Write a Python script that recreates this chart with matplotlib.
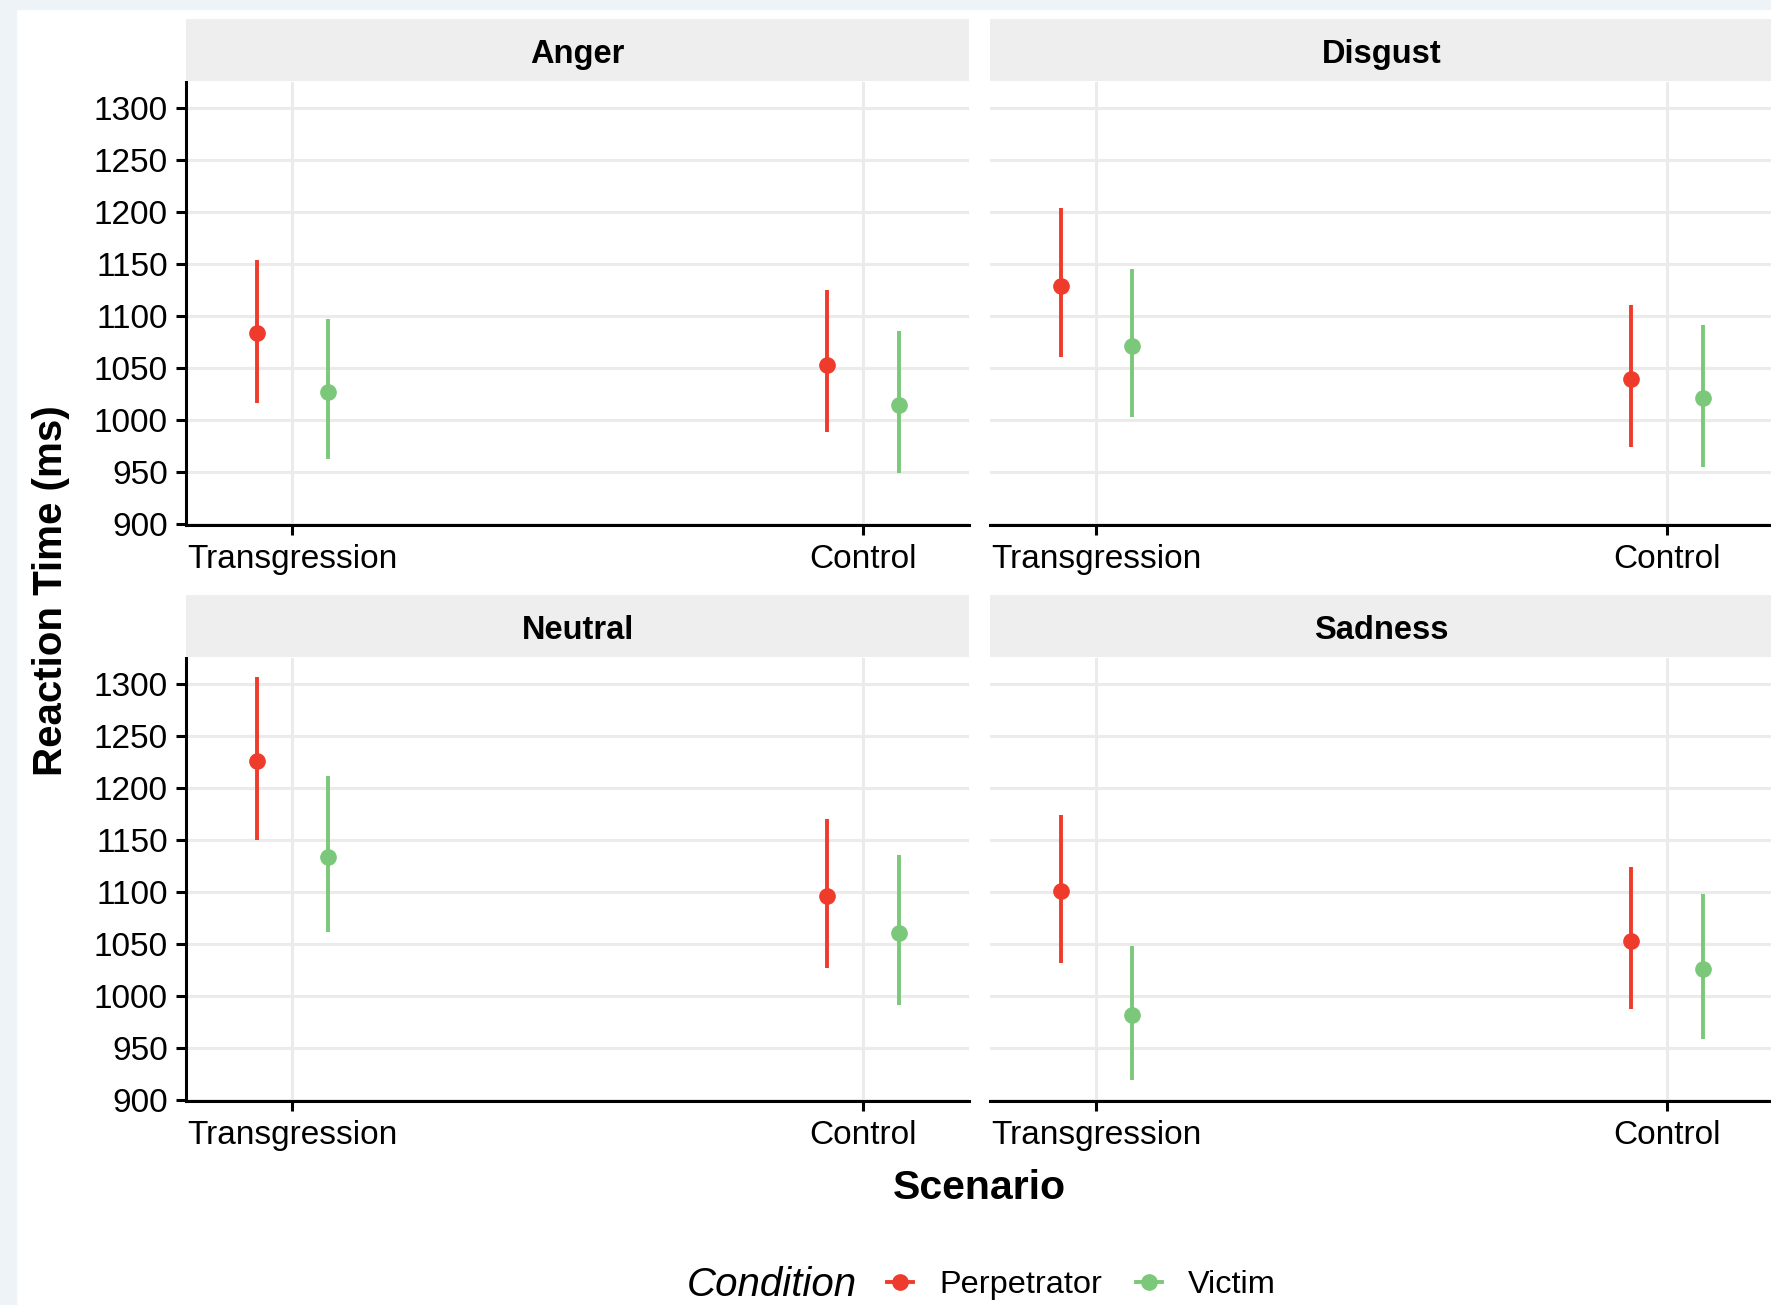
"""Reaction time by scenario, condition and emotion (facet grid, point ranges)"""
import matplotlib
matplotlib.use("Agg")
import matplotlib.pyplot as plt
from matplotlib.lines import Line2D
from matplotlib.patches import Rectangle

plt.rcParams['font.family'] = ['Liberation Sans', 'DejaVu Sans']

emotions = ["Anger", "Disgust", "Neutral", "Sadness"]
scenarios = ["Transgression", "Control"]
conditions = ["Perpetrator", "Victim"]

# per emotion: [Transgression, Control]
perp_mean = [[1083, 1053], [1129, 1039], [1226, 1096], [1101, 1053]]
perp_low = [[1016, 988], [1060, 974], [1150, 1027], [1032, 987]]
perp_high = [[1154, 1125], [1203, 1110], [1306, 1170], [1174, 1124]]
vict_mean = [[1027, 1014], [1071, 1021], [1133, 1060], [982, 1026]]
vict_low = [[962, 949], [1003, 955], [1061, 991], [919, 959]]
vict_high = [[1097, 1085], [1145, 1091], [1211, 1135], [1048, 1098]]

yticks = [900, 950, 1000, 1050, 1100, 1150, 1200, 1250, 1300]

red = "#EF3B2C"
green = "#7CC87A"
grid = "#EBEBEB"
W, H = 1771, 1305

fig = plt.figure(figsize=(W / 100, H / 100), dpi=100)
fig.patches.append(Rectangle((0, 0), 16 / W, 1, transform=fig.transFigure,
                             color="#EEF3F7", zorder=-10))
fig.patches.append(Rectangle((0, 1 - 9 / H), 1, 9 / H, transform=fig.transFigure,
                             color="#EEF3F7", zorder=-10))

cols = [(186, 969), (990, 1773)]
rows = [(82, 525, 19, 81), (658, 1101, 595, 657)]
dodge = 0.0625
xpos = [1, 2]

for i, emo in enumerate(emotions):
    r, c = divmod(i, 2)
    x0, x1 = cols[c]
    top, bot, stop, sbot = rows[r]
    ax = fig.add_axes([x0 / W, 1 - bot / H, (x1 - x0) / W, (bot - top) / H])
    sx = fig.add_axes([x0 / W, 1 - sbot / H, (x1 - x0) / W, (sbot - stop) / H])
    sx.set_facecolor("#EEEEEE")
    sx.set_xticks([]); sx.set_yticks([])
    for s in sx.spines.values():
        s.set_visible(False)
    sx.text(0.5, 0.42, emo, ha="center", va="center", fontsize=23.5,
            fontweight="bold", transform=sx.transAxes)

    for k, (m, lo, hi, col) in enumerate([(perp_mean, perp_low, perp_high, red),
                                          (vict_mean, vict_low, vict_high, green)]):
        xs = [x + (-dodge if k == 0 else dodge) for x in xpos]
        ax.vlines(xs, lo[i], hi[i], color=col, lw=2.8, zorder=3)
        ax.plot(xs, m[i], "o", color=col, ms=11, zorder=4)

    ax.set_xlim(0.8133, 2.186)
    ax.set_ylim(899, 1324.5)
    ax.set_xticks(xpos)
    ax.set_xticklabels(scenarios)
    ax.set_yticks(yticks)
    ax.grid(True, color=grid, lw=2.2, zorder=0)
    ax.set_axisbelow(True)
    for s in ["top", "right"]:
        ax.spines[s].set_visible(False)
    ax.spines["bottom"].set_linewidth(2.2)
    ax.spines["left"].set_linewidth(2.2)
    ax.tick_params(axis="both", labelsize=24, width=2.2, length=7, colors="black")
    ax.tick_params(axis="y", pad=6)
    ax.tick_params(axis="x", pad=7)
    if c == 1:
        ax.spines["left"].set_visible(False)
        ax.tick_params(axis="y", left=False, labelleft=False)

fig.text(51 / W, 1 - 591 / H, "Reaction Time (ms)", rotation=90, ha="center",
         va="center", fontsize=29, fontweight="bold")
fig.text(979 / W, 1 - 1188 / H, "Scenario", ha="center", va="center",
         fontsize=29.5, fontweight="bold")

# legend
ly = 1 - 1285 / H
fig.text(857 / W, ly, "Condition", ha="right", va="center", fontsize=29,
         style="italic")
handles = [Line2D([], [], color=red, lw=2.8, marker="o", ms=11),
           Line2D([], [], color=green, lw=2.8, marker="o", ms=11)]
fig.legend(handles, conditions, loc="center left", bbox_to_anchor=(871 / W, ly),
           ncol=2, frameon=False, fontsize=23.4, borderpad=0, handlelength=0.8,
           handletextpad=0.8, columnspacing=1.05)

fig.savefig("out.png", dpi=100)
